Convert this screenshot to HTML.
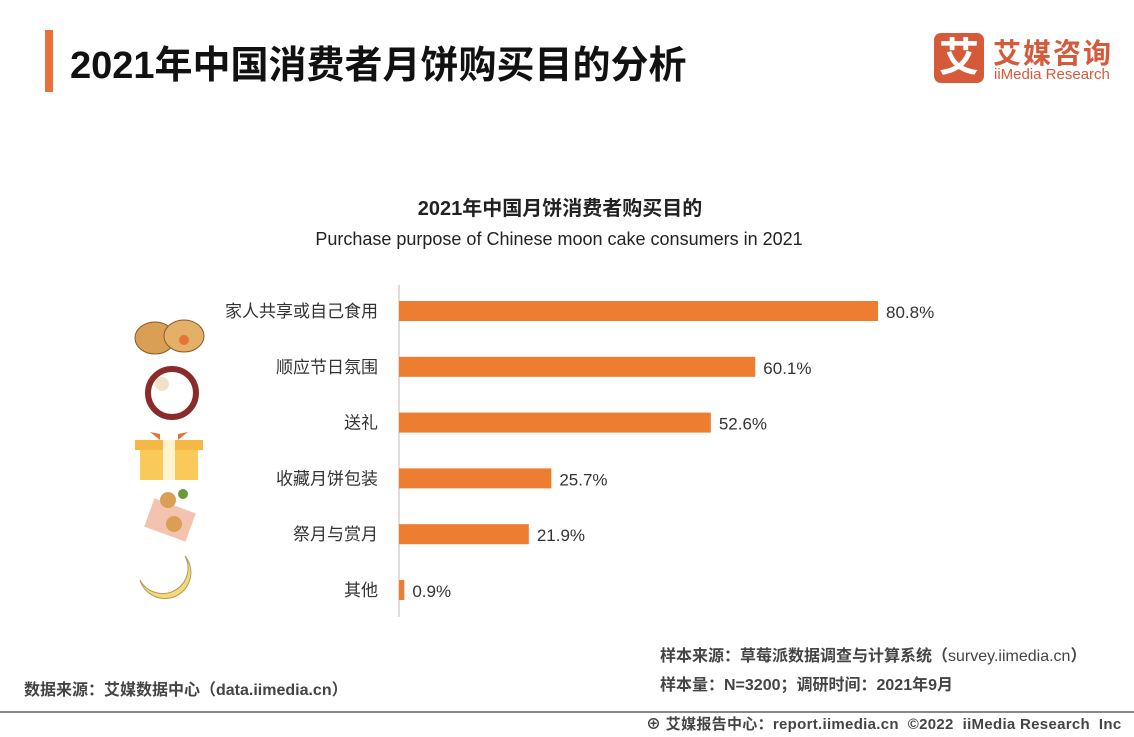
<!DOCTYPE html>
<html><head><meta charset="utf-8">
<style>
body{margin:0;width:1134px;height:737px;background:#fff;position:relative;overflow:hidden;font-family:"Liberation Sans","Noto Sans CJK SC",sans-serif;color:#222}
.abs{position:absolute;white-space:nowrap}
</style></head><body>
<div class="abs" style="left:45px;top:30px;width:8px;height:62px;background:#e8703a"></div>
<div class="abs" style="left:70px;top:34px;font-size:38px;font-weight:bold;color:#111">2021年中国消费者月饼购买目的分析</div>
<div class="abs" style="left:934px;top:33px;width:50px;height:50px;background:#d65a3a;border-radius:7px;color:#fff;font-size:40px;font-weight:bold;text-align:center;line-height:50px">艾</div>
<div class="abs" style="left:993px;top:32px;font-size:28px;font-weight:bold;color:#d65a3a;letter-spacing:2px">艾媒咨询</div>
<div class="abs" style="left:994px;top:66px;font-size:15px;color:#d65a3a">iiMedia Research</div>
<div class="abs" style="left:0;width:1120px;text-align:center;top:192px;font-size:20px;font-weight:bold">2021年中国月饼消费者购买目的</div>
<div class="abs" style="left:0;width:1118px;text-align:center;top:229px;font-size:18px">Purchase purpose of Chinese moon cake consumers in 2021</div>
<svg class="abs" style="left:0;top:0" width="1134" height="737">
<g id="icons">
<ellipse cx="155" cy="338" rx="20" ry="16" fill="#d9a055" stroke="#8a5a2a"/><ellipse cx="184" cy="336" rx="20" ry="16" fill="#e4b068" stroke="#8a5a2a"/><circle cx="184" cy="340" r="5" fill="#e8703a"/>
<circle cx="172" cy="393" r="24" fill="none" stroke="#8a2a2a" stroke-width="6"/><circle cx="162" cy="384" r="7" fill="#f0e2c8"/>
<rect x="135" y="440" width="68" height="10" fill="#f5b844"/><rect x="140" y="450" width="58" height="30" fill="#f9c95a"/><rect x="163" y="440" width="12" height="40" fill="#fff3d0"/><path d="M160 440 l-10 -8 l10 2z M178 440 l10 -8 l-10 2z" fill="#e8703a"/>
<rect x="148" y="505" width="44" height="30" fill="#f3c3b0" transform="rotate(20 170 520)"/><circle cx="168" cy="500" r="8" fill="#d9a055"/><circle cx="174" cy="524" r="8" fill="#d9a055"/><circle cx="183" cy="494" r="5" fill="#6a9a3a"/>
<path d="M185 556 A26 26 0 1 1 140 580 A22 22 0 1 0 185 556z" fill="#f6d77a" stroke="#b09a5a"/>
</g>
<g id="bars"></g>
</svg>
<div class="abs" style="left:660px;top:642px;font-size:16px;font-weight:bold;color:#444">样本来源：草莓派数据调查与计算系统（<span style="font-weight:normal">survey.iimedia.cn</span>）</div>
<div class="abs" style="left:660px;top:671px;font-size:16px;font-weight:bold;color:#444">样本量：N=3200；调研时间：2021年9月</div>
<div class="abs" style="left:24px;top:676px;font-size:16px;font-weight:bold;color:#444">数据来源：艾媒数据中心（data.iimedia.cn）</div>
<div class="abs" style="left:0;top:711px;width:1134px;height:2px;background:#888"></div>
<div class="abs" style="left:646px;top:713px;font-size:15px;font-weight:bold;color:#444;letter-spacing:0.3px">⊕ 艾媒报告中心：report.iimedia.cn &nbsp;©2022 &nbsp;iiMedia Research &nbsp;Inc</div>
<script>
const categories=["家人共享或自己食用","顺应节日氛围","送礼","收藏月饼包装","祭月与赏月","其他"];
const values=[80.8,60.1,52.6,25.7,21.9,0.9];
const NS="http://www.w3.org/2000/svg";
const g=document.getElementById('bars');
const x0=399, pxPer=479/80.8, y0=311, step=55.8, bh=20;
function xs(v){return x0+v*pxPer;}
function ys(i){return y0+i*step;}
const ax=document.createElementNS(NS,'line');


ax.setAttribute('x1',x0);ax.setAttribute('x2',x0);ax.setAttribute('y1',285);ax.setAttribute('y2',617);ax.setAttribute('stroke','#bbb');
g.appendChild(ax);
categories.forEach((c,i)=>{
 const r=document.createElementNS(NS,'rect');
 
 
 r.setAttribute('x',x0);r.setAttribute('y',ys(i)-bh/2);r.setAttribute('width',xs(values[i])-x0);r.setAttribute('height',bh);r.setAttribute('fill','#ed7d31');
 g.appendChild(r);
 const t=document.createElementNS(NS,'text');
 
 
 t.setAttribute('x',378);t.setAttribute('y',ys(i)+6);t.setAttribute('text-anchor','end');t.setAttribute('font-size','17');t.setAttribute('fill','#333');
 t.textContent=c;g.appendChild(t);
 const v=document.createElementNS(NS,'text');
 
 
 v.setAttribute('x',xs(values[i])+8);v.setAttribute('y',ys(i)+7);v.setAttribute('font-size','17');v.setAttribute('fill','#333');
 v.textContent=values[i].toFixed(1)+'%';g.appendChild(v);
});
</script>
</body></html>
